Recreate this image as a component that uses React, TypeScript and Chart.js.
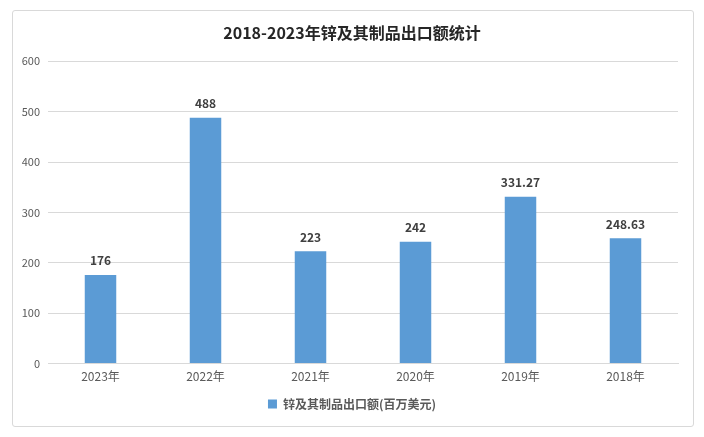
import React, { useEffect, useRef } from "react";
import { Chart, registerables } from "chart.js";

Chart.register(...registerables);

const categories = ["2023年", "2022年", "2021年", "2020年", "2019年", "2018年"];
const exportValues = [176, 488, 223, 242, 331.27, 248.63];
const valueLabels = ["176", "488", "223", "242", "331.27", "248.63"];
const seriesName = "锌及其制品出口额(百万美元)";
const chartTitle = "2018-2023年锌及其制品出口额统计";

const FONT = "'Noto Sans CJK SC', 'Noto Sans', sans-serif";

const labelPlugin = {
  id: "barValueLabels",
  afterDatasetsDraw(chart: any) {
    const ctx = chart.ctx;
    const meta = chart.getDatasetMeta(0);
    ctx.save();
    ctx.font = `bold 12px ${FONT}`;
    ctx.fillStyle = "#404040";
    ctx.textAlign = "center";
    ctx.textBaseline = "bottom";
    meta.data.forEach((bar: any, i: number) => {
      ctx.fillText(valueLabels[i], bar.x, bar.y - 8);
    });
    ctx.restore();
  },
};

export default function App() {
  const canvasRef = useRef<HTMLCanvasElement | null>(null);

  useEffect(() => {
    if (!canvasRef.current) return;
    const chart = new Chart(canvasRef.current, {
      type: "bar",
      data: {
        labels: categories,
        datasets: [
          {
            label: seriesName,
            data: exportValues,
            backgroundColor: "#5B9BD5",
            borderWidth: 0,
            categoryPercentage: 1,
            barPercentage: 0.3,
          },
        ],
      },
      options: {
        responsive: false,
        animation: false,
        maintainAspectRatio: false,
        layout: { padding: { left: 20, right: 20, top: 0, bottom: 17 } },
        plugins: {
          title: {
            display: true,
            text: chartTitle,
            color: "#262626",
            font: { family: FONT, size: 16, weight: "bold" },
            padding: { top: 23, bottom: 19 },
          },
          legend: {
            display: true,
            position: "bottom",
            labels: {
              boxWidth: 9,
              boxHeight: 9,
              color: "#595959",
              font: { family: FONT, size: 12, weight: "bold" },
              padding: 8,
            },
          },
          tooltip: { enabled: false },
        },
        scales: {
          x: {
            grid: { display: false, drawTicks: false },
            border: { display: true, color: "#d9d9d9" },
            ticks: {
              color: "#595959",
              font: { family: FONT, size: 12 },
              padding: 6,
            },
          },
          y: {
            min: 0,
            max: 600,
            afterFit(scale: any) {
              scale.width = 28;
            },
            grid: { color: "#d9d9d9", drawTicks: false },
            border: { display: false },
            ticks: {
              stepSize: 100,
              color: "#595959",
              font: { family: FONT, size: 11 },
              padding: 8,
            },
          },
          yRight: {
            position: "right",
            display: true,
            min: 0,
            max: 600,
            afterFit(scale: any) {
              scale.width = 6;
            },
            grid: { display: false, drawTicks: false },
            border: { display: false },
            ticks: { display: false },
          },
        },
      },
      plugins: [labelPlugin],
    });
    return () => chart.destroy();
  }, []);

  return (
    <div
      style={{
        position: "fixed",
        left: 0,
        top: 0,
        width: 704,
        height: 437,
        background: "#ffffff",
      }}
    >
      <div
        style={{
          position: "absolute",
          left: 12,
          top: 10,
          width: 680,
          height: 415,
          border: "1px solid #d9d9d9",
          borderRadius: 3,
        }}
      />
      <canvas
        ref={canvasRef}
        width={704}
        height={437}
        style={{ position: "absolute", left: 0, top: 0, width: 704, height: 437 }}
      />
    </div>
  );
}
